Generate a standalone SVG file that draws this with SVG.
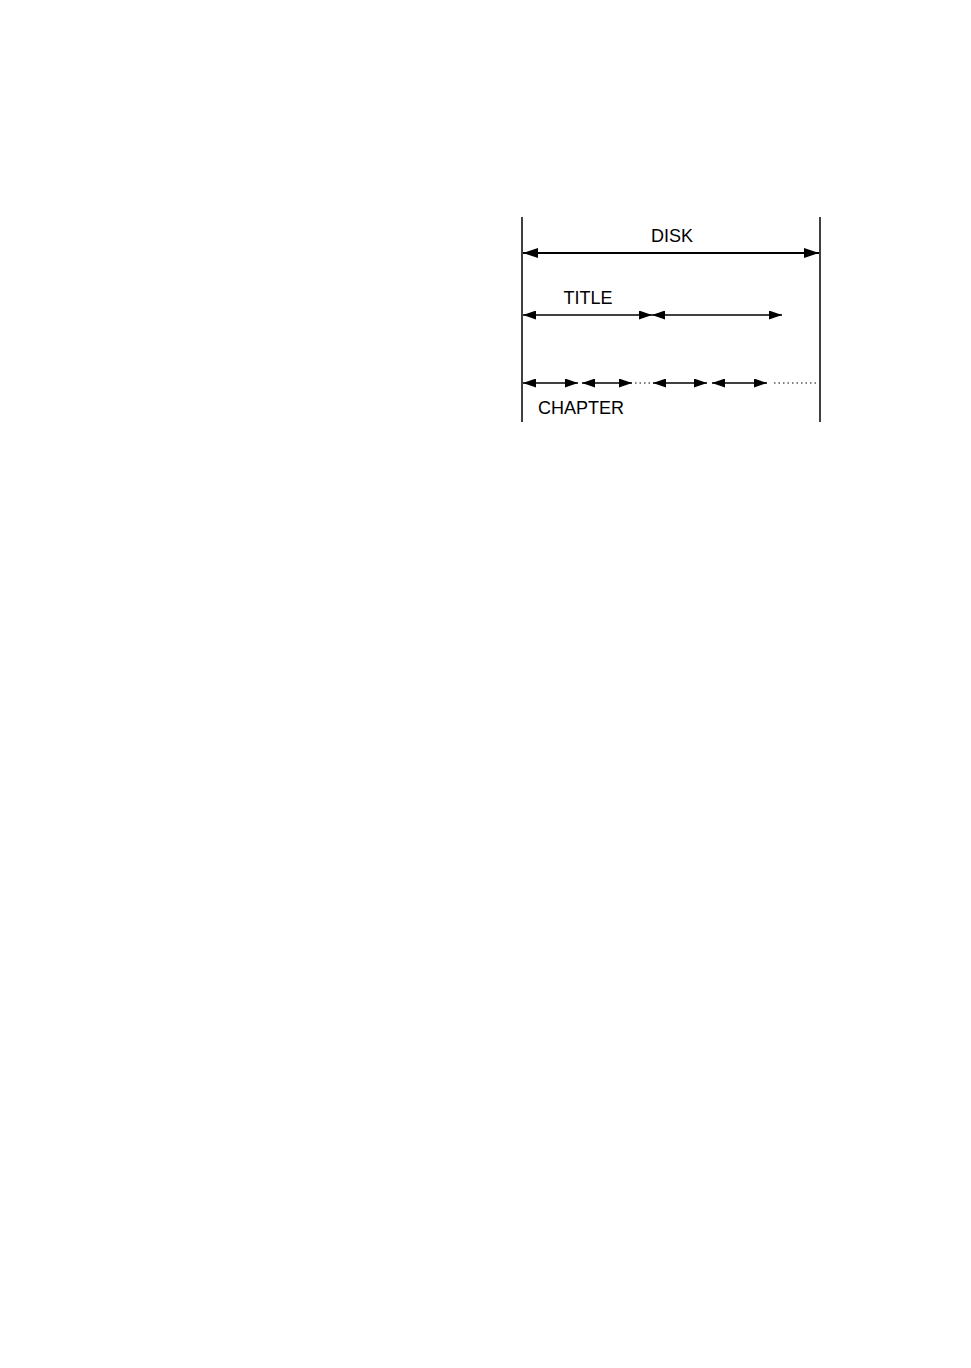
<svg xmlns="http://www.w3.org/2000/svg" width="971" height="1368" viewBox="0 0 971 1368">
<style>
.t{font-family:"Liberation Sans",Arial,sans-serif;font-size:18px;fill:#000}
.b{stroke:#000;fill:none}
.dot{stroke:#000;stroke-width:1;stroke-dasharray:1.5 3;fill:none}
</style>
<defs>
<marker id="ah" viewBox="0 0 15 10" refX="15" refY="5" markerWidth="15" markerHeight="10" markerUnits="userSpaceOnUse" orient="auto-start-reverse">
<path d="M0,0 L15,5 L0,10 Z" fill="#000"/>
</marker>
<marker id="as" viewBox="0 0 13 9" refX="13" refY="4.5" markerWidth="13" markerHeight="9" markerUnits="userSpaceOnUse" orient="auto-start-reverse">
<path d="M0,0 L13,4.5 L0,9 Z" fill="#000"/>
</marker>
</defs>
<rect width="971" height="1368" fill="#fff"/>
<g id="bounds">
<line class="b" x1="522" y1="217" x2="522" y2="422" stroke-width="1.5"/>
<line class="b" x1="820" y1="217" x2="820" y2="422" stroke-width="1.5"/>
</g>
<g id="disk">
<text class="t" x="672" y="242" text-anchor="middle">DISK</text>
</g>
<g id="title">
<text class="t" x="588" y="304" text-anchor="middle">TITLE</text>
</g>
<g id="chapter">
<text class="t" x="538" y="414">CHAPTER</text>
</g>
<g id="connectors">
<line class="b" x1="523" y1="253" x2="819" y2="253" stroke-width="2" marker-start="url(#ah)" marker-end="url(#ah)"/>
<line class="b" x1="523" y1="315" x2="652" y2="315" stroke-width="1.3" marker-start="url(#as)" marker-end="url(#as)"/>
<line class="b" x1="652" y1="315" x2="782" y2="315" stroke-width="1.3" marker-start="url(#as)" marker-end="url(#as)"/>
<line class="b" x1="523" y1="383" x2="578" y2="383" stroke-width="1.5" marker-start="url(#as)" marker-end="url(#as)"/>
<line class="b" x1="582" y1="383" x2="632" y2="383" stroke-width="1.5" marker-start="url(#as)" marker-end="url(#as)"/>
<line class="dot" x1="635" y1="383" x2="651" y2="383"/>
<line class="b" x1="653" y1="383" x2="707" y2="383" stroke-width="1.5" marker-start="url(#as)" marker-end="url(#as)"/>
<line class="b" x1="712" y1="383" x2="767" y2="383" stroke-width="1.5" marker-start="url(#as)" marker-end="url(#as)"/>
<line class="dot" x1="774" y1="383" x2="819" y2="383"/>
</g>
</svg>
